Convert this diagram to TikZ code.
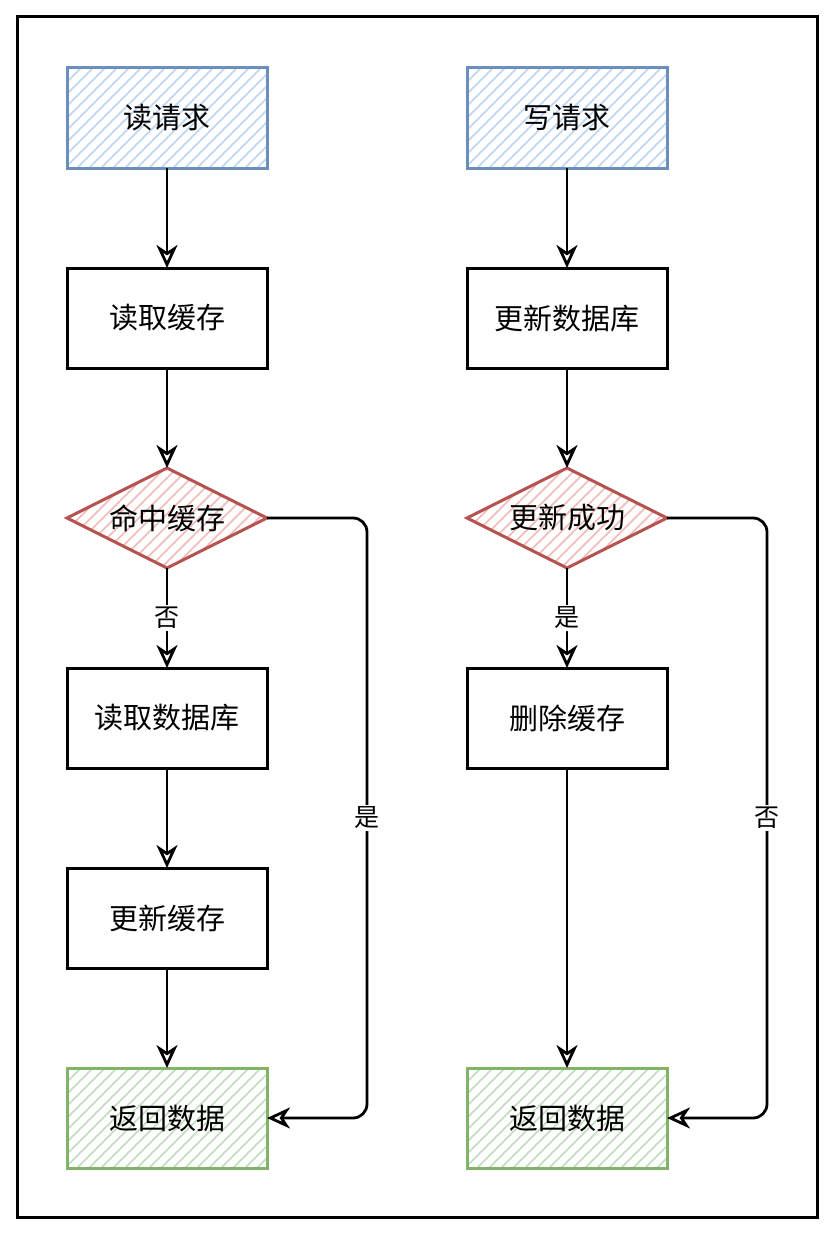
\documentclass[tikz,border=0pt]{standalone}
\usepackage{fontspec}
\usepackage{xcolor}
\usepackage{tikz}
\usetikzlibrary{positioning, arrows.meta, shapes.geometric}
\setmainfont{Noto Sans CJK SC}
\definecolor{reqfill}{HTML}{BCD5F3}
\definecolor{reqline}{HTML}{6C8EBF}
\definecolor{condfill}{HTML}{F3BAB8}
\definecolor{condline}{HTML}{B85450}
\definecolor{retfill}{HTML}{C0DDBD}
\definecolor{retline}{HTML}{82B366}

\tikzset{
  hatch/.style={path picture={%
    \foreach \i in {-110,-98,...,210}{%
      \draw[#1, line width=1.6pt]
        ([xshift=\i pt]path picture bounding box.south west) -- ++(110pt,110pt);}}},
  stepbox/.style={draw=black, line width=3pt, minimum width=200pt,
    minimum height=100pt, inner sep=0pt, outer sep=0pt,
    font=\fontsize{29}{32}\selectfont},
  reqbox/.style={stepbox, draw=reqline, hatch=reqfill},
  retbox/.style={stepbox, draw=retline, hatch=retfill},
  condbox/.style={diamond, draw=condline, line width=3pt, aspect=2,
    minimum width=200pt, minimum height=100pt, inner sep=0pt, outer sep=0pt,
    hatch=condfill, font=\fontsize{29}{32}\selectfont},
  flow/.style={draw, line width=2.8pt, rounded corners=14pt,
    -{Stealth[open, length=23pt, width=21pt, inset=7pt]}},
  lbl/.style={fill=white, inner sep=2pt, font=\fontsize{25}{28}\selectfont},
}

\begin{document}
\begin{tikzpicture}[x=1pt, y=1pt, node distance=100pt]
  \useasboundingbox (0,0) rectangle (835,-1236);
  \draw[line width=3pt] (17,-17) rectangle (817,-1217);

  % read path
  \node[reqbox] (rreq) at (167,-118) {读请求};
  \node[stepbox, below=of rreq] (rcache) {读取缓存};
  \node[condbox, below=of rcache] (rhit) {命中缓存};
  \node[stepbox, below=of rhit] (rdb) {读取数据库};
  \node[stepbox, below=of rdb] (rupd) {更新缓存};
  \node[retbox, below=of rupd] (rret) {返回数据};

  % write path
  \node[reqbox] (wreq) at (567,-118) {写请求};
  \node[stepbox, below=of wreq] (wdb) {更新数据库};
  \node[condbox, below=of wdb] (wok) {更新成功};
  \node[stepbox, below=of wok] (wdel) {删除缓存};
  \node[retbox, below=300pt of wdel] (wret) {返回数据};

  \draw[flow] (rreq) -- (rcache);
  \draw[flow] (rcache) -- (rhit);
  \draw[flow] (rhit) -- node[lbl] {否} (rdb);
  \draw[flow] (rdb) -- (rupd);
  \draw[flow] (rupd) -- (rret);
  \draw[flow] (rhit.east) -- ++(100pt,0) |- node[lbl, pos=0.25] {是} (rret.east);

  \draw[flow] (wreq) -- (wdb);
  \draw[flow] (wdb) -- (wok);
  \draw[flow] (wok) -- node[lbl] {是} (wdel);
  \draw[flow] (wdel) -- (wret);
  \draw[flow] (wok.east) -- ++(100pt,0) |- node[lbl, pos=0.25] {否} (wret.east);
\end{tikzpicture}
\end{document}
